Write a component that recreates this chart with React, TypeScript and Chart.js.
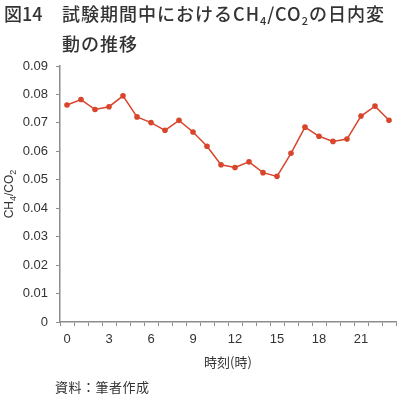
import React, { useEffect, useRef } from "react";
import { Chart, registerables } from "chart.js";

Chart.register(...registerables);

const hours: string[] = [
  "0", "1", "2", "3", "4", "5", "6", "7", "8", "9", "10", "11",
  "12", "13", "14", "15", "16", "17", "18", "19", "20", "21", "22", "23",
];
const ratioValues: number[] = [
  0.0763, 0.0782, 0.0747, 0.0757, 0.0795, 0.0721, 0.0701, 0.0674, 0.0709, 0.0668, 0.0618, 0.0553,
  0.0543, 0.0563, 0.0525, 0.0512, 0.0593, 0.0685, 0.0653, 0.0635, 0.0643, 0.0724, 0.0759, 0.0709,
];
const yMin = 0;
const yMax = 0.09;
const yStep = 0.01;
const xLabelEvery = 3;

const LINE_COLOR = "#d8452b";
const AXIS_COLOR = "#8c8c8c";
const TEXT_COLOR = "#333333";
const LATIN = "'Liberation Sans', Arial, sans-serif";
const CJK = "'Noto Sans CJK JP', sans-serif";

const yTitlePlugin = {
  id: "yTitleSub",
  afterDraw(chart: any) {
    const ctx = chart.ctx as CanvasRenderingContext2D;
    const { top, bottom } = chart.chartArea;
    const parts: [string, boolean][] = [
      ["CH", false],
      ["4", true],
      ["/CO", false],
      ["2", true],
    ];
    const big = `12px ${LATIN}`;
    const small = `9px ${LATIN}`;
    ctx.save();
    let total = 0;
    for (const [t, s] of parts) {
      ctx.font = s ? small : big;
      total += ctx.measureText(t).width;
    }
    ctx.translate(10, (top + bottom) / 2);
    ctx.rotate(-Math.PI / 2);
    ctx.fillStyle = TEXT_COLOR;
    ctx.textBaseline = "middle";
    ctx.textAlign = "left";
    let x = -total / 2;
    for (const [t, s] of parts) {
      ctx.font = s ? small : big;
      ctx.fillText(t, x, s ? 4 : 0);
      x += ctx.measureText(t).width;
    }
    ctx.restore();
  },
};

export default function App() {
  const ref = useRef<HTMLCanvasElement | null>(null);

  useEffect(() => {
    if (!ref.current) return;
    const chart = new Chart(ref.current, {
      type: "line",
      data: {
        labels: hours,
        datasets: [
          {
            data: ratioValues,
            borderColor: LINE_COLOR,
            backgroundColor: LINE_COLOR,
            borderWidth: 1.5,
            pointRadius: 2.8,
            pointBorderWidth: 0,
            pointBackgroundColor: LINE_COLOR,
            tension: 0,
          },
        ],
      },
      options: {
        responsive: false,
        animation: false,
        events: [],
        layout: { padding: { top: 66, right: 4, bottom: 26, left: 0 } },
        plugins: { legend: { display: false }, tooltip: { enabled: false } },
        scales: {
          x: {
            type: "category",
            offset: true,
            grid: {
              offset: true,
              drawOnChartArea: false,
              drawTicks: true,
              tickLength: 4,
              color: AXIS_COLOR,
              lineWidth: 1,
            },
            border: { display: true, color: AXIS_COLOR, width: 1.5 },
            ticks: {
              autoSkip: false,
              maxRotation: 0,
              padding: 6,
              color: TEXT_COLOR,
              font: { family: LATIN, size: 13 },
              callback: (_v: any, i: number) => (i % xLabelEvery === 0 ? hours[i] : ""),
            },
            title: {
              display: true,
              text: "時刻(時)",
              color: TEXT_COLOR,
              font: { family: CJK, size: 13 },
              padding: 0,
            },
            afterFit: (s: any) => {
              s.height = 48;
            },
          },
          y: {
            min: yMin,
            max: yMax,
            grid: {
              drawOnChartArea: false,
              drawTicks: true,
              tickLength: 4,
              color: AXIS_COLOR,
              lineWidth: 1,
            },
            border: { display: true, color: AXIS_COLOR, width: 1.5 },
            ticks: {
              stepSize: yStep,
              padding: 8,
              color: TEXT_COLOR,
              font: { family: LATIN, size: 13 },
              callback: (v: any) => (Number(v) === 0 ? "0" : Number(v).toFixed(2)),
            },
            afterFit: (s: any) => {
              s.width = 60;
            },
          },
        },
      },
      plugins: [yTitlePlugin],
    });
    return () => chart.destroy();
  }, []);

  const sub = (t: string) => (
    <span style={{ fontSize: 11, position: "relative", top: 4 }}>{t}</span>
  );

  return (
    <div
      style={{
        position: "fixed",
        left: 0,
        top: 0,
        width: 400,
        height: 396,
        background: "#fff",
        overflow: "hidden",
      }}
    >
      <canvas ref={ref} width={400} height={396} style={{ position: "absolute", left: 0, top: 0 }} />
      <div
        style={{
          position: "absolute",
          left: 4,
          top: 0,
          fontFamily: CJK,
          fontWeight: 500,
          fontSize: 18,
          lineHeight: "27px",
          color: TEXT_COLOR,
          whiteSpace: "nowrap",
        }}
      >
        <div>
          <span style={{ display: "inline-block", width: 58 }}>図14</span>
          <span style={{ letterSpacing: 1 }}>
            試験期間中におけるCH{sub("4")}/CO{sub("2")}の日内変
          </span>
        </div>
        <div style={{ paddingLeft: 58, letterSpacing: 1 }}>動の推移</div>
      </div>
      <div
        style={{
          position: "absolute",
          left: 55,
          top: 378,
          fontFamily: CJK,
          fontSize: 13,
          letterSpacing: 0.5,
          lineHeight: "18px",
          color: TEXT_COLOR,
          whiteSpace: "nowrap",
        }}
      >
        資料：筆者作成
      </div>
    </div>
  );
}
